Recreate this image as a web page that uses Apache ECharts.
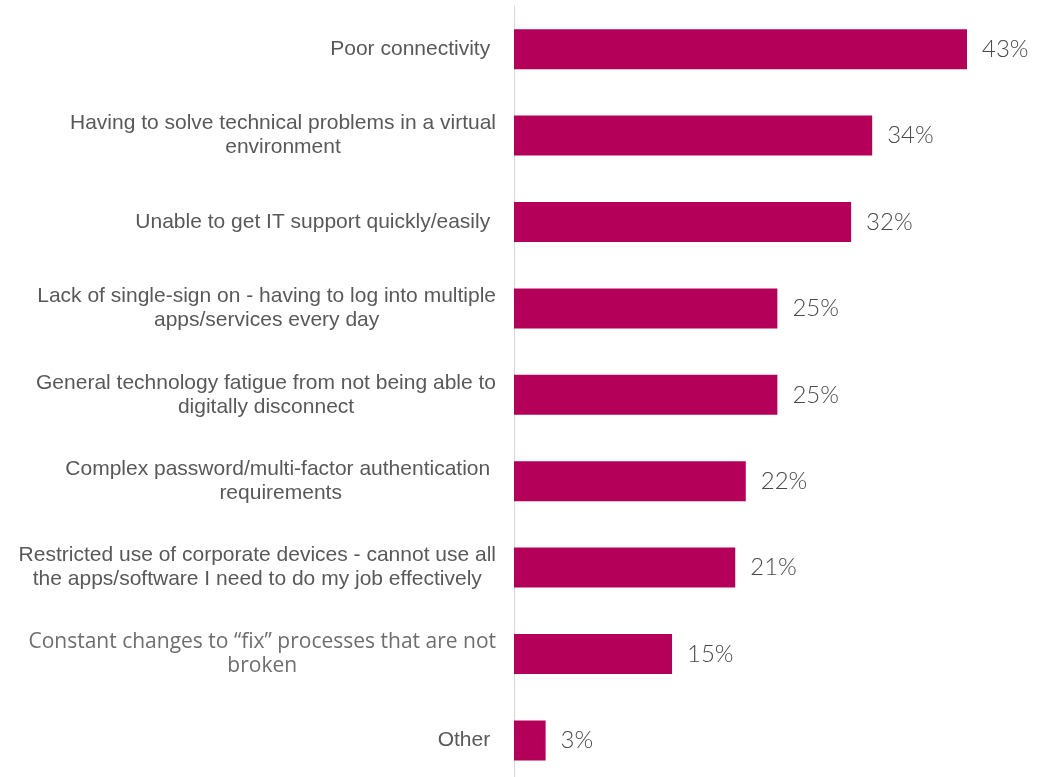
<!DOCTYPE html>
<html>
<head>
<meta charset="utf-8">
<script src="https://cdn.jsdelivr.net/npm/echarts@6/dist/echarts.min.js"></script>
<style>
  html, body { margin: 0; padding: 0; background: #fff; }
  #chart { width: 1049px; height: 777px; }
</style>
</head>
<body>
<div id="chart"></div>
<script>
// Reported IT frustrations, top to bottom (share of respondents, %)
const categories = [
  'Poor connectivity ',
  'Having to solve technical problems in a virtual\nenvironment',
  'Unable to get IT support quickly/easily ',
  'Lack of single-sign on - having to log into multiple\napps/services every day',
  'General technology fatigue from not being able to\ndigitally disconnect',
  'Complex password/multi-factor authentication \nrequirements',
  'Restricted use of corporate devices - cannot use all\nthe apps/software I need to do my job effectively',
  'Constant changes to \u201cfix\u201d processes that are not\nbroken',
  'Other '
];
const values = [43, 34, 32, 25, 25, 22, 21, 15, 3];
// Categories whose label is set in the lighter typeface
const lightLabels = ['Constant changes to \u201cfix\u201d processes that are not\nbroken'];

const chart = echarts.init(document.getElementById('chart'), null, { renderer: 'canvas' });

chart.setOption({
  animation: false,
  backgroundColor: '#ffffff',
  grid: {
    left: 514, right: 8.25, top: 6, height: 777.6,
    containLabel: false, outerBoundsMode: 'none'
  },
  xAxis: {
    type: 'value',
    min: 0,
    max: 50,
    show: false
  },
  yAxis: {
    type: 'category',
    inverse: true,
    data: categories,
    axisLine: { show: true, lineStyle: { color: '#d9d9d9', width: 1 } },
    axisTick: { show: false },
    splitLine: { show: false },
    axisLabel: {
      margin: 18,
      align: 'right',
      formatter: function (v) {
        const key = lightLabels.indexOf(v) >= 0 ? 'l' : 'c';
        return v.split('\n').map(function (s) { return '{' + key + '|' + s + '}'; }).join('\n');
      },
      rich: {
        c: {
          align: 'center',
          fontFamily: '"Liberation Sans", Arial, sans-serif',
          fontSize: 21,
          lineHeight: 24,
          color: '#595959'
        },
        l: {
          align: 'center',
          fontFamily: '"Open Sans", sans-serif',
          fontSize: 21,
          lineHeight: 24,
          color: '#6e6e6e'
        }
      }
    }
  },
  series: [{
    type: 'bar',
    data: values,
    barWidth: 40,
    itemStyle: { color: '#b5005a' },
    label: {
      show: true,
      position: 'right',
      distance: 15,
      formatter: '{c}%',
      fontFamily: 'Lato, "Open Sans", sans-serif',
      fontWeight: 300,
      fontSize: 24,
      color: '#4a4a4a'
    }
  }]
});
</script>
</body>
</html>
